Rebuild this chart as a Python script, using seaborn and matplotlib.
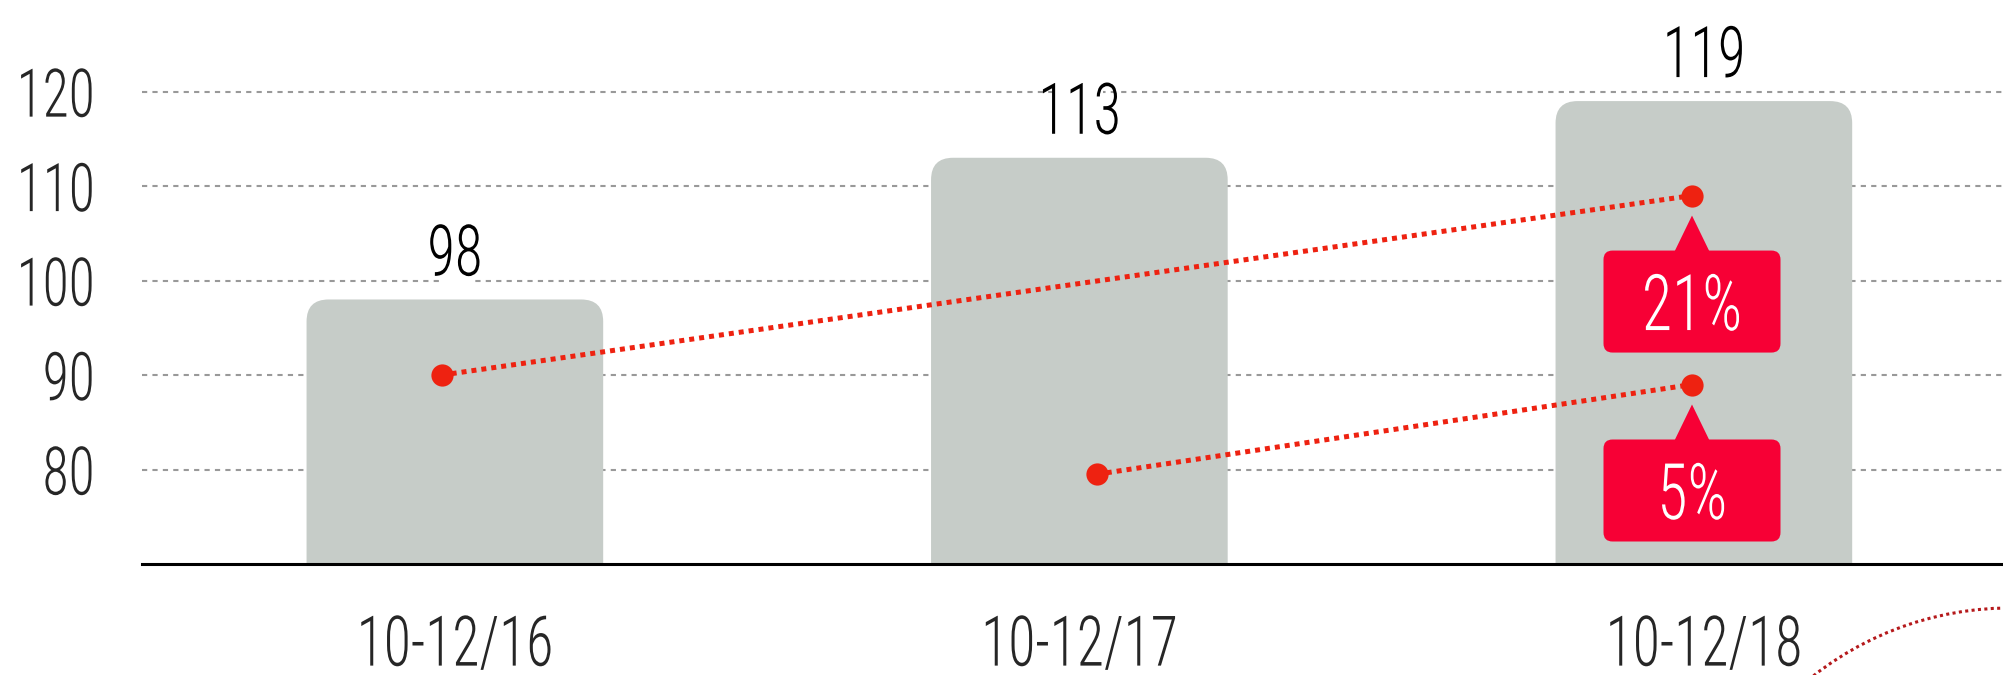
import os
import numpy as np
import pandas as pd
import seaborn as sns
import matplotlib
matplotlib.use("Agg")
import matplotlib.pyplot as plt
import matplotlib.transforms as mtransforms
from matplotlib.patches import FancyBboxPatch, Polygon, Arc
from matplotlib.patheffects import AbstractPathEffect
from matplotlib import font_manager as fm
from matplotlib.textpath import TextPath

# ---- data -------------------------------------------------------------
periods = ["10-12/16", "10-12/17", "10-12/18"]
totals = [98, 113, 119]
upper_trend = [90, 109]      # from 10-12/16 to 10-12/18
lower_trend = [79.5, 89]     # from 10-12/17 to 10-12/18
growth_labels = ["21%", "5%"]
y_ticks = [80, 90, 100, 110, 120]

# ---- style ------------------------------------------------------------
sns.set_style("white")
BAR = "#c6ccc8"
LINE_RED = "#ee2211"
TAG_RED = "#f70035"
GRID = "#999999"
DPI = 100
W_PX, H_PX = 2003, 675


def _shape(fp, s):
    ext = TextPath((0, 0), s, size=100, prop=fp).get_extents()
    return ext.width, ext.height


def pick_font():
    prefs = ["NotoSans-ExtraCondensedLight", "RobotoCondensed-Light",
             "NotoSans-CondensedLight", "OpenSans_Condensed-Light",
             "OpenSansCondensed-Light", "LiberationSansNarrow-Regular",
             "DejaVuSansCondensed.ttf"]
    files = [f.fname for f in fm.fontManager.ttflist]
    for p in prefs:
        for f in files:
            if p.lower() in os.path.basename(f).lower():
                return fm.FontProperties(fname=f)
    return fm.FontProperties(family="Liberation Sans")


class Narrow(AbstractPathEffect):
    """Draw the glyph outlines compressed horizontally about an anchor."""

    def __init__(self, sx, anchor="center"):
        super().__init__()
        self.sx = sx
        self.anchor = anchor

    def draw_path(self, renderer, gc, tpath, affine, rgbFace=None):
        ext = tpath.get_extents(affine)
        if self.anchor == "right":
            xc = ext.x1
        elif self.anchor == "left":
            xc = ext.x0
        else:
            xc = 0.5 * (ext.x0 + ext.x1)
        squeeze = mtransforms.Affine2D().translate(-xc, 0).scale(self.sx, 1).translate(xc, 0)
        renderer.draw_path(gc, tpath, affine + squeeze, rgbFace)


BASE_FONT = pick_font()
_digit_ratio = _shape(BASE_FONT, "0")[1] / 100.0
# horizontal compression giving a tall, narrow figure style
_w1, _h1 = _shape(BASE_FONT, "10-12/18")
_w2, _h2 = _shape(BASE_FONT, "120")
SX = min(1.0, 0.5 * (3.68 / (_w1 / _h1) + 1.35 / (_w2 / _h2)))


def font_for(digit_px):
    fp = BASE_FONT.copy()
    fp.set_size(digit_px * 72.0 / DPI / _digit_ratio)
    return fp


fp_value = font_for(52)
fp_ytick = font_for(49)
fp_xtick = font_for(51)
fp_tag = font_for(57)

# ---- figure -----------------------------------------------------------
fig = plt.figure(figsize=(W_PX / DPI, H_PX / DPI), dpi=DPI)
left = 142 / W_PX
bottom = (H_PX - 564) / H_PX
ax = fig.add_axes([left, bottom, 1 - left, 1 - bottom])

df = pd.DataFrame({"period": periods, "total": totals})
sns.barplot(data=df, x="period", y="total", color=BAR, saturation=1,
            width=0.475, ax=ax, zorder=2)

ax.set_xlim(-0.501, 2.479)
ax.set_ylim(70, 129.7)

# rounded tops for the bars
x0, x1 = ax.get_xlim()
y0, y1 = ax.get_ylim()
px_per_x = ax.bbox.width / (x1 - x0)
px_per_y = ax.bbox.height / (y1 - y0)
corner = 22 / px_per_x
aspect = px_per_x / px_per_y
for p in list(ax.patches):
    bx, bw, bh = p.get_x(), p.get_width(), p.get_height()
    p.remove()
    ax.add_patch(FancyBboxPatch((bx, 0), bw, bh,
                                boxstyle=f"round,pad=0,rounding_size={corner}",
                                mutation_aspect=aspect, fc=BAR, ec="none",
                                zorder=2))

# value labels above bars
for i, v in enumerate(totals):
    t = ax.annotate(str(v), xy=(i, v), xytext=(0, 24 * 72 / DPI),
                    textcoords="offset points", ha="center", va="baseline",
                    fontproperties=fp_value, color="black", zorder=4)
    t.set_path_effects([Narrow(SX, "center")])
    # white knock-out behind the number so grid dashes stop at it
    ax.annotate(" " * len(str(v)), xy=(i, v), xytext=(0, 24 * 72 / DPI),
                textcoords="offset points", ha="center", va="baseline",
                fontproperties=fp_value, zorder=3,
                bbox=dict(fc="white", ec="none", pad=0))

# dotted trend lines with end dots
upper_x = [0 - 0.021, 2 - 0.019]
lower_x = [1 + 0.028, 2 - 0.019]
for xs, ys in [(upper_x, upper_trend), (lower_x, lower_trend)]:
    ax.plot(xs, ys, color=LINE_RED, lw=3.6, linestyle=(0, (1.0, 1.0)),
            dash_capstyle="butt", zorder=5)
    ax.plot(xs, ys, color=LINE_RED, lw=0, marker="o", ms=16, mew=0, zorder=6)

# growth call-outs hanging below the end dots (units: inches from the dot)
for (tx, ty), lab in zip([(upper_x[1], upper_trend[1]),
                          (lower_x[1], lower_trend[1])], growth_labels):
    tr = fig.dpi_scale_trans + mtransforms.ScaledTranslation(tx, ty, ax.transData)
    ax.add_patch(FancyBboxPatch((-0.885, -1.57), 1.77, 1.02,
                                boxstyle="round,pad=0,rounding_size=0.09",
                                transform=tr, fc=TAG_RED, ec="none", zorder=7))
    ax.add_patch(Polygon([(0, -0.20), (-0.175, -0.56), (0.175, -0.56)],
                         closed=True, transform=tr, fc=TAG_RED, ec="none",
                         zorder=7))
    t = ax.text(0, -1.345, lab, transform=tr, ha="center", va="baseline",
                color="white", fontproperties=fp_tag, zorder=8)
    t.set_path_effects([Narrow(SX, "center")])

# axes styling
ax.set_yticks(y_ticks)
ax.set_yticklabels([str(t) for t in y_ticks])
ax.set_xlabel("")
ax.set_ylabel("")
ax.set_axisbelow(True)
ax.grid(axis="y", color=GRID, lw=1.5, linestyle=(0, (2.5, 2.5)))
ax.grid(axis="x", visible=False)
for s in ["left", "top", "right"]:
    ax.spines[s].set_visible(False)
ax.spines["bottom"].set_color("black")
ax.spines["bottom"].set_linewidth(2.2)
ax.tick_params(axis="y", length=0, pad=33.5)
ax.tick_params(axis="x", length=0, pad=35)
for lab in ax.get_yticklabels():
    lab.set_fontproperties(fp_ytick)
    lab.set_path_effects([Narrow(SX, "right")])
for lab in ax.get_xticklabels():
    lab.set_fontproperties(fp_xtick)
    lab.set_path_effects([Narrow(SX, "center")])

# dotted arc entering from the lower right corner
fig.add_artist(Arc((20.10, -2.52), 6.38, 6.38, theta1=86, theta2=131,
                   transform=fig.dpi_scale_trans, color="#b5191b", lw=2.2,
                   linestyle=(0, (1, 1.1)), clip_on=False))

fig.savefig("out.png", dpi=DPI, facecolor="white")
